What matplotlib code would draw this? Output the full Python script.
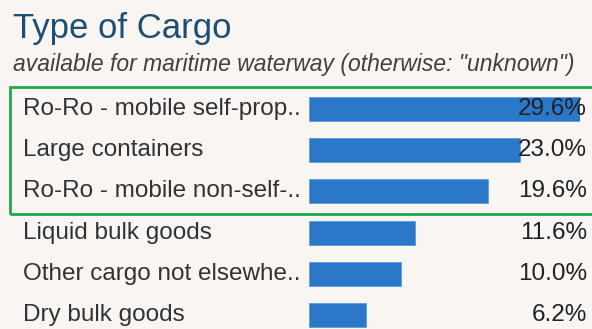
import matplotlib.pyplot as plt
from matplotlib.patches import Rectangle
from matplotlib.transforms import blended_transform_factory

# chart data
categories = ['Ro-Ro - mobile self-prop..', 'Large containers', 'Ro-Ro - mobile non-self-..',
              'Liquid bulk goods', 'Other cargo not elsewhe..', 'Dry bulk goods']
shares = [29.6, 23.0, 19.6, 11.6, 10.0, 6.2]
pct_labels = ['29.6%', '23.0%', '19.6%', '11.6%', '10.0%', '6.2%']

W, H = 592, 329
bg = '#f8f5f2'
bar_col = '#2b78c9'

plt.rcParams['font.family'] = ['Liberation Sans', 'DejaVu Sans']
fig = plt.figure(figsize=(W / 100, H / 100), dpi=100, facecolor=bg)

# title + subtitle
fig.text(13 / W, 1 - 38 / H, 'Type of Cargo', fontsize=25, color='#1d4f72', va='baseline')
fig.text(13 / W, 1 - 71 / H, 'available for maritime waterway (otherwise: "unknown")',
         fontsize=16.5, style='italic', color='#404040', va='baseline')

# bar area, pixel based
x0, x1 = 309, 580
top, bot = 88, 329
ax = fig.add_axes([x0 / W, 1 - bot / H, (x1 - x0) / W, (bot - top) / H])
ax.set_facecolor('none')
ypos = list(range(len(categories)))
ax.barh(ypos, shares, height=0.58, color=bar_col, edgecolor='#5a9be0', linewidth=0.6)
ax.set_xlim(0, 29.6)
step = 41.2
ax.set_ylim(5 + (bot - 315) / step, -(109 - top) / step)
ax.axis('off')

tr = blended_transform_factory(fig.transFigure, ax.transData)
for y, cat, lab in zip(ypos, categories, pct_labels):
    ax.text(23 / W, y, cat, transform=tr, fontsize=17.5, color='#333333', va='center', ha='left')
    ax.text(587 / W, y, lab, transform=tr, fontsize=17.5, color='#222222', va='center', ha='right')

# green highlight box around the top three rows
fig.patches.append(Rectangle((10 / W, 1 - 214 / H), (W + 5 - 10) / W, (214 - 87) / H,
                             transform=fig.transFigure, fill=False,
                             edgecolor='#22a84b', linewidth=2))

fig.savefig('out.png', dpi=100, facecolor=bg)
